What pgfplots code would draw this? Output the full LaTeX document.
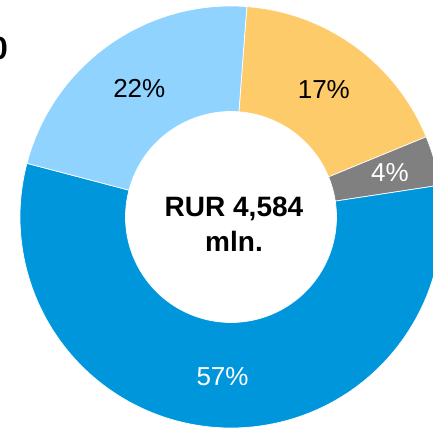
\documentclass[border=0pt]{standalone}
\usepackage{fontspec}
\setmainfont{Liberation Sans}
\usepackage{pgfplots}
\usepackage{pgfplotstable}
\pgfplotsset{compat=1.18}

\definecolor{segblue}{RGB}{0,150,219}
\definecolor{seglight}{RGB}{143,211,254}
\definecolor{segyellow}{RGB}{254,203,106}
\definecolor{seggray}{RGB}{128,128,128}

\newcommand\pctfont{\fontsize{26}{30}\selectfont}
\newcommand\midfont{\fontsize{28}{34}\selectfont\bfseries}

% share of total (%), printed label, fill, label colour, label radius
\pgfplotstableread[col sep=comma]{
share,label,col,txt,lr
17.6,17,segyellow,black,158
3.8,4,seggray,white,165
56.5,57,segblue,white,160
22.1,22,seglight,black,158
}\donut

\begin{document}
\begin{tikzpicture}
\begin{axis}[width=433pt, height=428pt, scale only axis, hide axis,
  xmin=0, xmax=433, ymin=0, ymax=428]
\xdef\curang{85.7}
\pgfplotsinvokeforeach{0,...,3}{%
  \pgfplotstablegetelem{#1}{share}\of\donut
  \pgfmathsetmacro\sweep{3.6*\pgfplotsretval}%
  \pgfplotstablegetelem{#1}{col}\of\donut \let\segcol\pgfplotsretval
  \pgfplotstablegetelem{#1}{label}\of\donut \let\seglab\pgfplotsretval
  \pgfplotstablegetelem{#1}{txt}\of\donut \let\segtxt\pgfplotsretval
  \pgfplotstablegetelem{#1}{lr}\of\donut \let\seglr\pgfplotsretval
  \pgfmathsetmacro\endang{\curang-\sweep}%
  \pgfmathsetmacro\midang{\curang-\sweep/2}%
  \edef\doseg{%
    \noexpand\fill[\segcol, draw=white, line width=0.7pt]
      (axis cs:231,211) ++(\curang:211pt)
      arc[start angle=\curang, end angle=\endang, radius=211pt]
      -- ++(\endang:-105.5pt)
      arc[start angle=\endang, end angle=\curang, radius=105.5pt] -- cycle;
    \noexpand\path (axis cs:231,211) ++(\midang:\seglr pt)
      node[text=\segtxt, inner sep=0pt] {\noexpand\pctfont\seglab\noexpand\%};
  }%
  \doseg
  \xdef\curang{\endang}%
}
\node[anchor=base, inner sep=0pt] at (axis cs:234,211) {\midfont RUR 4,584};
\node[anchor=base, inner sep=0pt] at (axis cs:234,176) {\midfont mln.};
\node[anchor=base east, inner sep=0pt] at (axis cs:8,368)
  {\fontsize{32}{36}\selectfont\bfseries 0};
\end{axis}
\pgfresetboundingbox
\path (0,0) rectangle (433pt,428pt);
\end{tikzpicture}
\end{document}
